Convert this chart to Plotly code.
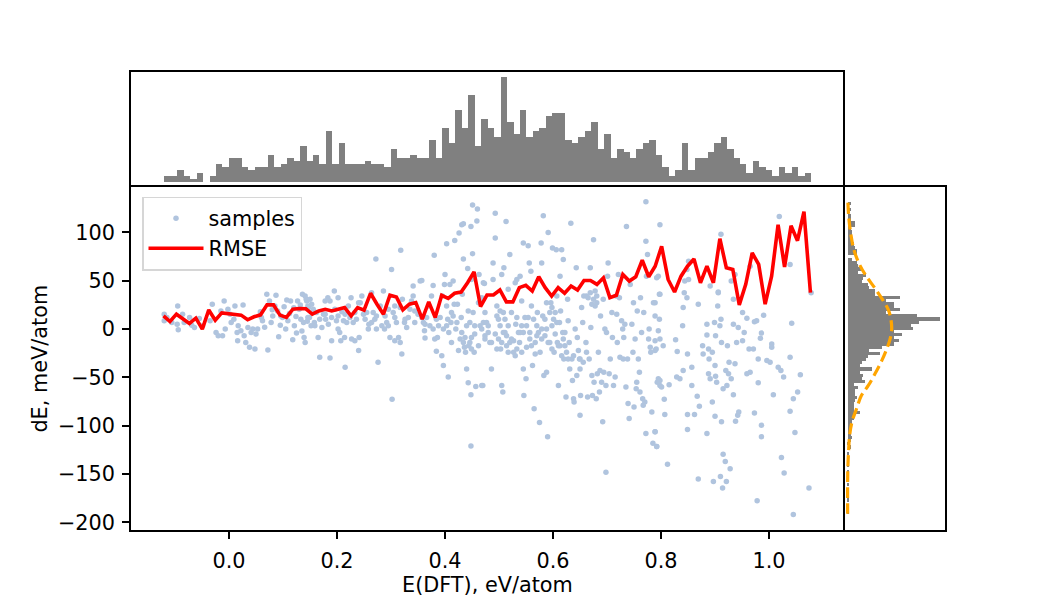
import numpy as np
import plotly.graph_objects as go

# === Top histogram: counts per E(DFT) bin ===
e_bin_start = -0.120
e_bin_width = 0.01198
e_counts = [2, 2, 4, 2, 1, 3, 0, 2, 6, 5,
            8, 8, 5, 4, 5, 5, 9, 5, 6, 8,
            7, 12, 7, 9, 6, 17, 6, 13, 6, 6,
            6, 7, 6, 6, 5, 11, 8, 8, 9, 8,
            8, 14, 8, 18, 13, 24, 18, 29, 12, 21,
            18, 15, 35, 20, 16, 24, 15, 17, 18, 22,
            23, 23, 14, 13, 15, 17, 20, 11, 16, 8,
            11, 10, 8, 11, 13, 14, 9, 5, 2, 4,
            13, 4, 8, 8, 10, 13, 15, 11, 8, 6,
            3, 7, 5, 4, 2, 5, 3, 5, 2, 3]

# === Right histogram: counts per dE bin, from the top bin down ===
de_bin_top = 131.8
de_bin_width = 3.23
de_counts = [2, 0, 2, 1, 2, 2, 5, 5, 2, 3,
             3, 3, 2, 4, 5, 6, 6, 0, 3, 6,
             7, 9, 7, 12, 10, 9, 13, 14, 18, 18,
             34, 25, 30, 30, 34, 25, 45, 60, 46, 41,
             42, 30, 35, 30, 33, 30, 22, 14, 21, 13,
             12, 9, 8, 16, 8, 10, 9, 11, 4, 7,
             5, 5, 6, 5, 4, 4, 4, 8, 4, 4,
             3, 3, 3, 2, 2, 3, 2, 1, 2, 0,
             1, 0, 1, 1, 1, 0, 1, 1, 1, 0,
             1, 0, 1, 0, 1, 1, 0, 1, 0, 1]

# normal fit drawn over the right histogram (dE, count)
fit_de = [130.8, 116.1, 98.9, 81.8, 66.4, 54.4, 42.4, 30.4, 20.1, 9.9, -0.4, -10.7,
          -21.0, -32.9, -46.6, -58.6, -68.8, -82.6, -96.3, -110.0, -123.7, -140.8, -157.9, -191.1]
fit_count = [0.2, 0.7, 2.0, 4.1, 7.8, 12.2, 17.6, 22.6, 26.3, 28.0, 28.5, 27.4,
             25.2, 22.0, 17.6, 13.3, 8.9, 5.7, 2.8, 1.3, 0.7, 0.2, 0.0, 0.0]

# === RMSE per bin ===
rmse_start = -0.1213
rmse_step = 0.01198
rmse = [13.7, 7.8, 15.4, 10.3, 5.8, 11.3, 0.0, 19.8, 9.2, 16.7,
        16.0, 15.4, 14.4, 9.6, 12.7, 14.7, 25.0, 25.0, 14.4, 12.0,
        20.5, 21.2, 21.0, 15.4, 18.8, 20.5, 18.8, 20.5, 22.2, 13.7,
        22.2, 19.5, 37.0, 25.7, 15.4, 35.0, 33.2, 19.9, 25.7, 27.4,
        10.3, 28.1, 12.0, 34.9, 31.8, 37.0, 38.3, 48.0, 59.2, 23.3,
        35.2, 35.2, 40.4, 28.1, 28.1, 42.8, 45.2, 39.3, 54.1, 42.8,
        34.2, 42.8, 37.0, 44.5, 40.4, 50.3, 50.3, 46.2, 53.0, 32.5,
        34.9, 56.5, 49.6, 54.1, 71.2, 54.1, 65.0, 85.6, 51.3, 38.3,
        54.7, 65.0, 72.5, 47.9, 65.0, 47.9, 93.5, 63.3, 61.6, 25.0,
        46.2, 78.7, 66.8, 25.7, 54.7, 107.8, 64.3, 106.8, 91.4, 121.5,
        37.6]

samples_low = [
    (-0.12, 15.4), (-0.12, 8.5), (-0.115, 11.9), (-0.106, 6.8), (-0.095, 23.9), (-0.094, -0.7),
    (-0.096, 5.1), (-0.086, 15.4), (-0.083, 6.8), (-0.073, 11.9), (-0.069, 4.0), (-0.064, 1.7),
    (-0.055, 10.9), (-0.049, 3.4), (-0.031, 25.6), (-0.035, 8.5), (-0.024, -3.5), (-0.02, -6.9),
    (-0.012, -6.9), (-0.015, 18.8), (-0.009, 29.1), (-0.007, 0.0), (-0.002, 20.5), (0.002, 15.4),
    (0.004, 6.8), (0.009, 10.2), (0.011, 23.9), (0.015, -3.5), (0.016, -12.0), (0.017, 3.4),
    (0.022, -1.8), (0.026, 24.9), (0.028, -6.9), (0.031, -13.8), (0.035, 1.7), (0.038, -18.9),
    (0.041, -3.5), (0.044, 0.0), (0.048, -20.6), (0.05, -5.2), (0.053, 0.0), (0.06, 11.9),
    (0.062, 8.5), (0.07, 35.9), (0.072, -21.6), (0.075, 29.1), (0.078, 6.8), (0.081, 13.6),
    (0.087, 34.9), (0.085, 23.9), (0.09, 18.8), (0.096, 13.6), (0.099, 11.9), (0.102, 23.2),
    (0.105, 0.0), (0.109, 8.5), (0.114, 29.1), (0.118, -11.0), (0.121, 3.4), (0.124, 13.0),
    (0.127, 29.1), (0.13, 20.5), (0.133, 10.2), (0.136, 35.9), (0.138, 6.8), (0.139, -8.6),
    (0.141, -13.8), (0.143, 30.8), (0.146, 23.9), (0.149, 11.9), (0.152, 3.4), (0.058, 18.0),
    (0.066, 2.0), (0.092, -8.0), (0.107, 30.0), (0.112, 16.0), (0.125, -4.0), (0.132, 25.0),
    (0.145, 8.0), (0.095, 4.0), (0.08, 20.0), (0.12, 22.0), (0.135, -2.0),
]

samples_mid = [
    (0.141, 34.2), (0.144, 29.1), (0.146, 11.9), (0.15, 30.8), (0.153, 25.6), (0.156, 20.5),
    (0.158, 6.8), (0.162, 17.1), (0.165, -8.6), (0.168, 10.2), (0.168, -29.2), (0.172, 1.7),
    (0.175, 15.4), (0.178, 29.1), (0.179, 10.2), (0.183, 32.5), (0.184, 5.1), (0.187, 29.1),
    (0.187, -29.9), (0.19, -12.0), (0.19, 11.9), (0.195, 39.3), (0.199, 8.5), (0.202, 0.0),
    (0.202, 32.5), (0.205, -3.5), (0.207, -12.0), (0.209, 17.8), (0.212, 8.5), (0.214, -8.6),
    (0.215, -39.4), (0.218, 6.8), (0.221, 23.9), (0.224, 11.9), (0.226, 32.5), (0.227, -10.3),
    (0.23, 6.8), (0.233, -12.0), (0.236, 10.2), (0.24, -22.3), (0.241, -8.6), (0.243, 27.3),
    (0.246, 34.2), (0.249, 15.4), (0.255, 17.1), (0.258, 0.0), (0.259, 5.1), (0.264, 37.6),
    (0.267, 17.1), (0.27, 10.2), (0.272, 72.5), (0.273, 0.0), (0.276, -34.3), (0.28, 23.9),
    (0.283, 3.4), (0.286, 39.3), (0.288, 0.0), (0.292, 6.8), (0.295, 20.5), (0.298, -8.6),
    (0.301, 61.6), (0.302, -72.7), (0.304, 17.1), (0.307, -12.0), (0.31, 6.8), (0.314, -8.6),
    (0.317, -13.8), (0.318, 81.4), (0.32, -25.7), (0.321, 30.8), (0.325, 6.8), (0.326, 10.2),
    (0.329, 1.7), (0.335, 20.5), (0.338, 29.1), (0.341, 44.5), (0.341, 34.2), (0.344, 18.8),
    (0.35, 15.4), (0.354, 49.6), (0.357, 50.3), (0.36, 6.8), (0.362, -1.8), (0.363, -9.3),
    (0.366, 11.9), (0.37, 23.9), (0.372, 3.4), (0.375, 34.2), (0.378, 0.0), (0.378, 45.1),
    (0.38, 76.3), (0.381, -10.3), (0.384, 10.2), (0.384, -23.0), (0.386, -8.6), (0.391, 11.9),
    (0.394, -27.5), (0.395, 34.2), (0.397, -37.7), (0.399, 46.2), (0.4, 56.4), (0.403, 23.9),
    (0.405, 10.2), (0.406, -49.7), (0.407, -3.5), (0.409, 46.2), (0.411, 6.8), (0.412, -13.8),
    (0.415, 49.6), (0.417, 25.6), (0.418, 91.7), (0.42, 0.0), (0.423, 25.6), (0.425, -22.3),
    (0.426, 99.3), (0.428, -10.3), (0.43, 11.9), (0.431, 107.8), (0.432, 35.9), (0.434, 72.5),
    (0.436, -18.9), (0.437, -8.6), (0.438, -24.0), (0.44, -41.2), (0.442, 62.6), (0.443, 18.8),
    (0.443, -55.5), (0.444, -17.2), (0.446, 6.8), (0.448, 106.1), (0.448, -67.9), (0.448, -121.0),
    (0.449, 51.3), (0.449, -8.6), (0.451, 78.0), (0.451, 128.4), (0.452, 17.1), (0.454, -24.0),
    (0.455, 3.4), (0.457, -59.3), (0.459, 111.9), (0.46, 124.3), (0.462, 27.3), (0.463, 56.4),
    (0.465, 3.4), (0.467, 30.8), (0.468, -58.3), (0.471, 6.8), (0.473, 47.2), (0.474, -10.3),
    (0.415, 13.6), (0.422, 6.8), (0.431, -3.5), (0.44, 3.4), (0.446, -13.8), (0.455, -5.2),
    (0.462, -17.2), (0.468, 0.0), (0.434, -13.8), (0.449, -20.6), (0.403, 3.4), (0.397, 0.0),
    (0.412, 17.1), (0.363, 5.1), (0.357, 11.9), (0.388, 3.4), (0.147, 22.2), (0.159, 3.4),
    (0.196, 20.5), (0.215, 15.4), (0.233, 17.1), (0.252, 10.2), (0.264, 6.8), (0.289, 13.6),
    (0.307, 11.9), (0.317, 22.2), (0.332, 11.9), (0.344, 6.8), (0.307, 23.9), (0.178, 15.4),
    (0.202, 13.6), (0.24, 27.3), (0.273, 13.6), (0.295, 3.4), (0.403, 88.3), (0.434, 108.8),
]

samples_high = [
    (0.468, 32.5), (0.471, 47.9), (0.474, 17.1), (0.477, 6.8), (0.48, -3.5), (0.483, -13.8),
    (0.489, 68.4), (0.489, 51.3), (0.493, 119.8), (0.493, 94.1), (0.486, -41.2), (0.47, -58.3),
    (0.496, 23.9), (0.499, 10.2), (0.502, 3.4), (0.503, -20.6), (0.505, 56.4), (0.505, -58.3),
    (0.507, -65.1), (0.508, 17.1), (0.509, 63.3), (0.511, -3.5), (0.513, 111.2), (0.514, -17.2),
    (0.517, 41.1), (0.52, 77.0), (0.523, 17.1), (0.523, -10.3), (0.527, -24.0), (0.53, 47.9),
    (0.531, 5.1), (0.533, 51.3), (0.536, -3.5), (0.538, -13.8), (0.539, 54.7), (0.542, 29.1),
    (0.545, 89.0), (0.545, -41.2), (0.546, -68.6), (0.548, 11.9), (0.55, -51.4), (0.551, -18.9),
    (0.554, 86.2), (0.556, 68.4), (0.557, -3.5), (0.559, 59.9), (0.56, 23.9), (0.562, -37.7),
    (0.564, 10.2), (0.565, -82.3), (0.567, -13.8), (0.57, 3.4), (0.571, 17.1), (0.575, -96.6),
    (0.576, -24.0), (0.578, 89.0), (0.579, 68.4), (0.581, 13.6), (0.582, 117.1), (0.583, -48.0),
    (0.585, -6.9), (0.588, -44.6), (0.59, -111.4), (0.591, 99.9), (0.591, -13.8), (0.594, 17.1),
    (0.596, 27.3), (0.598, 3.4), (0.599, 83.8), (0.601, 10.2), (0.602, -24.0), (0.604, -5.2),
    (0.606, 82.1), (0.607, 34.2), (0.608, -13.8), (0.61, -58.3), (0.612, 6.8), (0.613, 54.7),
    (0.614, 18.8), (0.616, 82.1), (0.618, -3.5), (0.619, 71.9), (0.62, -30.9), (0.622, -17.2),
    (0.624, -70.3), (0.627, 30.8), (0.628, 8.5), (0.63, -13.8), (0.631, -41.2), (0.633, 109.5),
    (0.635, -30.9), (0.636, -53.1), (0.638, -72.0), (0.639, -75.4), (0.641, 0.0), (0.643, 63.3),
    (0.644, -48.0), (0.645, -8.6), (0.647, -22.3), (0.649, -30.9), (0.65, -41.2), (0.65, -89.1),
    (0.651, -68.6), (0.653, 22.2), (0.655, 6.8), (0.657, 34.2), (0.661, -13.8), (0.662, -24.0),
    (0.664, -70.3), (0.665, 32.5), (0.667, -30.9), (0.669, 63.3), (0.67, 1.7), (0.672, -48.0),
    (0.673, -68.6), (0.675, 92.4), (0.676, -54.9), (0.678, 23.9), (0.68, -72.0), (0.681, 34.2),
    (0.682, -46.3), (0.684, -24.0), (0.686, -65.1), (0.687, -42.9), (0.688, 13.6), (0.69, -54.9),
    (0.692, -95.9), (0.693, 30.8), (0.694, -44.6), (0.696, 0.0), (0.698, -58.3), (0.698, -148.0),
    (0.699, -3.5), (0.701, 54.7), (0.702, 68.4), (0.704, -46.3), (0.706, -30.9), (0.709, 17.1),
    (0.71, -8.6), (0.712, -58.3), (0.715, -49.7), (0.717, 34.2), (0.718, 15.4), (0.719, -13.8),
    (0.721, 56.4), (0.723, 32.5), (0.724, -29.2), (0.727, 8.5), (0.729, 0.0), (0.73, -30.9),
    (0.731, -8.6), (0.733, 5.1), (0.735, -60.0), (0.736, 106.1), (0.738, -30.9), (0.739, -77.1),
    (0.741, -92.5), (0.743, 46.2), (0.746, 5.1), (0.748, -24.0), (0.749, 27.3), (0.75, -80.5),
    (0.752, -10.3), (0.754, -61.7), (0.755, -54.9), (0.756, 18.8), (0.758, -30.9), (0.76, -44.6),
    (0.761, -65.1), (0.762, 32.5), (0.764, -3.5), (0.766, -72.0), (0.767, -78.8), (0.768, 17.1),
    (0.77, -75.4), (0.772, 90.7), (0.772, 131.8), (0.772, -107.9), (0.773, 54.7), (0.775, 77.0),
    (0.777, -10.3), (0.778, 0.0), (0.78, -18.9), (0.781, -24.0), (0.783, -85.7), (0.785, -118.2),
    (0.786, 27.3), (0.789, -106.2), (0.791, -20.6), (0.792, -121.6), (0.793, -54.9), (0.795, -51.4),
    (0.797, 35.9), (0.797, 10.2), (0.798, -58.3),
    (0.474, -6.9), (0.48, 3.4), (0.486, -13.8), (0.493, -5.2), (0.496, -20.6), (0.499, -10.3),
    (0.505, -13.8), (0.508, -3.5), (0.514, -6.9), (0.517, -24.0), (0.52, -13.8), (0.527, -12.0),
    (0.53, -27.5), (0.533, -20.6), (0.539, -3.5), (0.542, -24.0), (0.551, 3.4), (0.557, -10.3),
    (0.56, -17.2), (0.567, -25.7), (0.573, -3.5), (0.579, -10.3), (0.585, 10.2), (0.588, 0.0),
    (0.594, -13.8), (0.598, -20.6), (0.604, 17.1), (0.607, 6.8), (0.613, -17.2), (0.616, -27.5),
    (0.622, -3.5), (0.625, -24.0), (0.496, 13.6), (0.502, 18.8), (0.511, 10.2), (0.517, 3.4),
    (0.533, 11.9), (0.542, 3.4), (0.545, -3.5), (0.554, 11.9), (0.57, -6.9), (0.579, 0.0),
    (0.588, 27.3), (0.598, 22.2), (0.61, -17.2), (0.619, -10.3), (0.628, -30.9), (0.638, -27.5),
    (0.65, -30.9), (0.656, -34.3), (0.662, 34.2), (0.669, 37.6), (0.675, 30.8), (0.681, 27.3),
    (0.672, 25.6), (0.678, 39.3),
]

samples_top = [
    (0.798, 107.8), (0.792, 53.0), (0.798, 35.9), (0.789, 27.3), (0.789, 13.6), (0.795, -1.8),
    (0.798, -10.3), (0.789, -12.0), (0.804, -17.2), (0.789, -22.3), (0.798, -53.1), (0.801, -60.0),
    (0.806, -72.7), (0.815, -57.6), (0.807, -88.4), (0.789, -106.2), (0.792, -121.6), (0.812, -139.8),
    (0.827, -11.0), (0.83, -23.3), (0.84, 3.4), (0.841, 22.2), (0.843, 37.6), (0.848, 32.5),
    (0.851, 51.3), (0.844, 49.6), (0.851, 70.1), (0.849, -25.7), (0.841, -42.9), (0.835, -51.4),
    (0.829, -49.7), (0.857, -39.4), (0.857, -58.3), (0.849, -88.4), (0.862, -88.4), (0.849, -103.8),
    (0.867, -69.6), (0.871, -79.9), (0.869, 25.6), (0.869, -155.2), (0.877, -17.2), (0.878, -25.7),
    (0.885, 5.1), (0.885, -6.2), (0.885, -107.9), (0.888, -20.6), (0.889, -30.9), (0.891, 44.5),
    (0.888, -46.3), (0.891, -51.4), (0.895, -24.0), (0.895, -75.4), (0.897, -157.6), (0.899, 6.8),
    (0.9, -37.7), (0.901, -6.9), (0.901, -48.7), (0.903, -54.9), (0.9, -90.1), (0.905, 23.9),
    (0.906, 37.6), (0.909, 3.4), (0.911, 10.2), (0.912, -95.9), (0.912, -13.8), (0.915, -129.5),
    (0.915, -61.7), (0.919, -137.0), (0.92, -42.9), (0.922, -58.3), (0.923, -17.2), (0.925, -46.3),
    (0.926, -34.3), (0.928, -144.6), (0.91, -152.5), (0.921, -157.6), (0.914, -164.4), (0.93, -51.4),
    (0.934, 5.1), (0.934, -67.9), (0.937, -36.0), (0.938, -95.3), (0.94, -13.8), (0.942, -89.1),
    (0.943, 1.7), (0.944, -85.7), (0.934, 30.8), (0.93, 49.6), (0.951, -12.0), (0.951, 17.1),
    (0.954, -3.5), (0.959, 11.2), (0.959, -46.3), (0.963, -20.6), (0.965, -44.6), (0.971, -20.6),
    (0.973, 7.5), (0.973, -86.7), (0.977, 8.5), (0.98, -30.9), (0.98, -55.5), (0.984, -9.6),
    (0.986, -99.4), (0.986, -4.2), (0.986, -111.4), (0.99, 14.3), (0.996, -32.6), (1.002, -34.3),
    (1.005, -15.5), (1.005, -18.9), (1.008, -67.9), (0.978, -177.5), (1.017, -39.4), (1.019, 116.4),
    (1.022, -42.9), (1.023, -132.9), (1.027, -49.7), (1.028, -149.0), (1.039, 66.7), (1.039, -29.2),
    (1.039, -85.0), (1.042, 6.1), (1.045, -72.0), (1.045, -191.8), (1.048, -106.9), (1.053, -65.1),
    (1.058, -47.3), (1.074, -164.4), (1.078, 37.6), (0.965, 65.0), (0.937, 56.4), (0.906, 38.3),
    (0.848, 61.6), (0.795, 54.7), (0.911, 98.0),
]

x_ticks = [0.0, 0.2, 0.4, 0.6, 0.8, 1.0]
x_tick_text = ["0.0", "0.2", "0.4", "0.6", "0.8", "1.0"]
y_ticks = [-200, -150, -100, -50, 0, 50, 100]
y_tick_text = ["\u2212200", "\u2212150", "\u2212100", "\u221250", "0", "50", "100"]

# === Build ===
samples = samples_low + samples_mid + samples_high + samples_top
dft = [p[0] for p in samples]
de = [p[1] for p in samples]

e_centers = e_bin_start + e_bin_width * (np.arange(len(e_counts)) + 0.5)
de_centers = de_bin_top - de_bin_width * (np.arange(len(de_counts)) + 0.5)
rmse_x = rmse_start + rmse_step * np.arange(len(rmse))

x_range = [-0.1815, 1.137]
y_range = [-208.3, 147.2]

fig = go.Figure()
fig.add_trace(go.Scatter(x=dft, y=de, mode="markers", name="samples",
                         marker=dict(color="#b0c4de", size=5.5, line=dict(width=0)),
                         xaxis="x", yaxis="y"))
fig.add_trace(go.Scatter(x=rmse_x, y=rmse, mode="lines", name="RMSE",
                         line=dict(color="red", width=3.6), xaxis="x", yaxis="y"))
fig.add_trace(go.Bar(x=e_centers, y=e_counts, width=e_bin_width, showlegend=False,
                     marker=dict(color="#808080", line=dict(width=0)),
                     xaxis="x2", yaxis="y2"))
fig.add_trace(go.Bar(x=de_counts, y=de_centers, width=de_bin_width, orientation="h",
                     showlegend=False, marker=dict(color="#808080", line=dict(width=0)),
                     xaxis="x3", yaxis="y3"))
fig.add_trace(go.Scatter(x=fit_count, y=fit_de, mode="lines", showlegend=False,
                         line=dict(color="orange", width=3.2, dash="11px,5px", shape="spline"),
                         xaxis="x3", yaxis="y3"))

# main axes draw a full box; the side panels only add the edges they do not share
LW = 1.6
box = dict(showline=True, mirror=True, linecolor="black", linewidth=LW,
           showgrid=False, zeroline=False)
bare = dict(box, showticklabels=False, ticks="")
one_side = dict(bare, mirror=False)

main_x = [131 / 1050, 843 / 1050]
side_x = [843 / 1050, 945 / 1050]
main_y = [66 / 600, 412 / 600]
top_y = [412 / 600, 528 / 600]

fig.update_layout(
    width=1050, height=600,
    margin=dict(l=0, r=0, t=0, b=0),
    paper_bgcolor="white", plot_bgcolor="white",
    font=dict(family="DejaVu Sans", size=20.8, color="black"),
    xaxis=dict(box, domain=main_x, range=x_range, anchor="y",
               ticks="outside", ticklen=7, tickwidth=LW, tickcolor="black",
               ticklabelstandoff=4, tickvals=x_ticks, ticktext=x_tick_text),
    yaxis=dict(box, domain=main_y, range=y_range, anchor="x",
               ticks="outside", ticklen=7, tickwidth=LW, tickcolor="black",
               ticklabelstandoff=3, tickvals=y_ticks, ticktext=y_tick_text),
    xaxis2=dict(one_side, domain=main_x, range=x_range, anchor="y2", side="top"),
    yaxis2=dict(bare, domain=top_y, range=[-1.75, 36.75], anchor="x2"),
    xaxis3=dict(bare, domain=side_x, range=[-3, 63], anchor="y3"),
    yaxis3=dict(one_side, domain=main_y, range=y_range, anchor="x3", side="right"),
    legend=dict(x=142 / 1050, y=1 - 198 / 600, xanchor="left", yanchor="top",
                bgcolor="rgba(255,255,255,0.8)", bordercolor="#d6d6d6", borderwidth=1.5,
                font=dict(size=20.8), itemwidth=55),
    bargap=0,
    annotations=[
        dict(text="E(DFT), eV/atom", xref="paper", yref="paper", x=487 / 1050, y=1 - 589 / 600,
             xanchor="center", yanchor="middle", showarrow=False, font=dict(size=20.8)),
        dict(text="dE, meV/atom", xref="paper", yref="paper", x=40 / 1050, y=1 - 361 / 600,
             xanchor="center", yanchor="middle", textangle=-90, showarrow=False,
             font=dict(size=20.8)),
    ],
)

# page body margin would shift the figure off the 1050x600 frame
fig.write_html("out.html", config={"displayModeBar": False},
               post_script="document.body.style.margin = '0px';")
